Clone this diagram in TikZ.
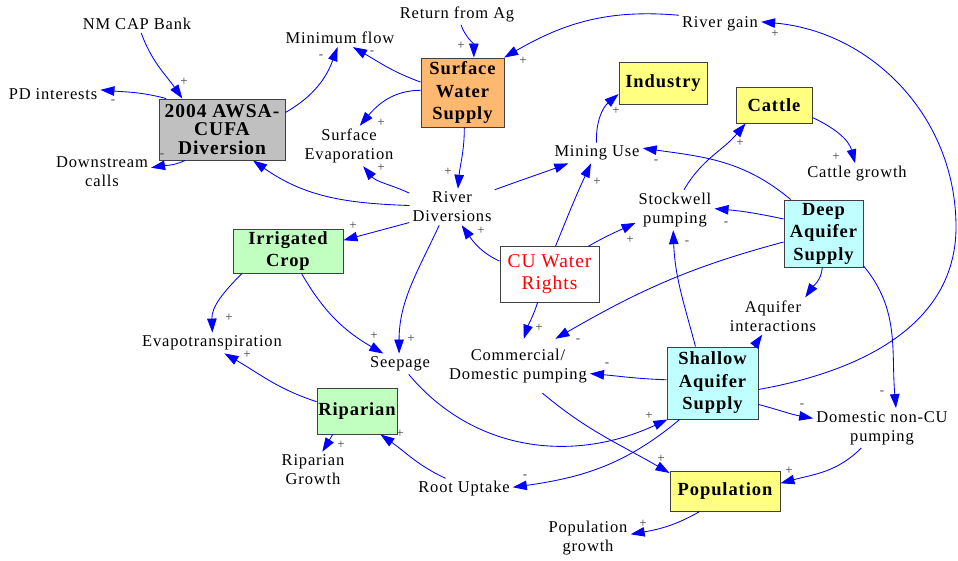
\documentclass[tikz,border=0pt]{standalone}
\usepackage{fontspec}
\setmainfont{Liberation Serif}[LetterSpace=5]
\usetikzlibrary{arrows.meta}
\definecolor{boxgray}{RGB}{192,192,192}
\definecolor{boxorange}{RGB}{255,184,112}
\definecolor{boxyellow}{RGB}{255,255,128}
\definecolor{boxcyan}{RGB}{192,255,255}
\definecolor{boxgreen}{RGB}{192,255,192}
\definecolor{edgegray}{RGB}{64,64,64}
\begin{document}
\begin{tikzpicture}[x=1pt,y=1pt,
  lbl/.style={font=\fontsize{16.5}{19}\selectfont, align=center, inner sep=3pt},
  boxst/.style={draw=edgegray, line width=0.9pt, align=center, inner sep=0pt,
    font=\fontsize{18.5}{22.5}\selectfont\bfseries},
  arr/.style={draw=blue, line width=0.85pt, -{Triangle[length=14pt,width=9.5pt]}},
  pm/.style={font=\fontsize{13}{13}\selectfont, text=black!75, inner sep=0pt}]
\useasboundingbox (0,0) rectangle (958,-560);

% boxes
\node[boxst, fill=boxgray, minimum width=126pt, minimum height=61pt,
  font=\fontsize{19.5}{18.5}\selectfont\bfseries] (awsa) at (222,-129.5) {2004 AWSA-\\CUFA\\Diversion};
\node[boxst, fill=boxorange, minimum width=83pt, minimum height=69pt] (sws) at (462.5,-92.5) {Surface\\Water\\Supply};
\node[boxst, fill=boxyellow, minimum width=88pt, minimum height=42pt] (ind) at (663,-83) {Industry};
\node[boxst, fill=boxyellow, minimum width=76pt, minimum height=36pt] (cattle) at (774,-105) {Cattle};
\node[boxst, fill=boxcyan, minimum width=79pt, minimum height=67pt] (deep) at (823.5,-233.5) {Deep\\Aquifer\\Supply};
\node[boxst, fill=boxcyan, minimum width=91pt, minimum height=72pt] (shallow) at (712.5,-383) {Shallow\\Aquifer\\Supply};
\node[boxst, fill=boxgreen, minimum width=110pt, minimum height=44pt] (irr) at (288,-251) {Irrigated\\Crop};
\node[boxst, fill=boxgreen, minimum width=80pt, minimum height=46pt] (rip) at (357,-411) {Riparian};
\node[boxst, fill=white, minimum width=99pt, minimum height=55.5pt, text=red,
  font=\fontsize{19.5}{22}\selectfont] (cu) at (549.5,-274.5) {CU Water\\Rights};
\node[boxst, fill=boxyellow, minimum width=110pt, minimum height=40pt] (pop) at (725,-491) {Population};

% text variables
\node[lbl] (nm) at (137,-24) {NM CAP Bank};
\node[lbl] (pd) at (53,-94) {PD interests};
\node[lbl] (ds) at (102,-172) {Downstream\\calls};
\node[lbl] (minf) at (340,-38) {Minimum flow};
\node[lbl] (ret) at (457,-14) {Return from Ag};
\node[lbl] (rg) at (720,-24) {River gain};
\node[lbl] (sevap) at (349,-146) {Surface\\Evaporation};
\node[lbl] (rd) at (452,-207) {River\\Diversions};
\node[lbl] (mining) at (597,-153) {Mining Use};
\node[lbl] (cg) at (857,-174) {Cattle growth};
\node[lbl] (sw) at (675,-210) {Stockwell\\pumping};
\node[lbl] (ai) at (773,-316) {Aquifer\\interactions};
\node[lbl, inner ysep=10pt] (cd) at (518,-366) {Commercial/\\Domestic pumping};
\node[lbl] (seep) at (400,-364) {Seepage};
\node[lbl] (et) at (212,-343) {Evapotranspiration};
\node[lbl] (rgr) at (313,-470) {Riparian\\Growth};
\node[lbl] (ru) at (464,-489) {Root Uptake};
\node[lbl] (dnc) at (882,-428) {Domestic non-CU\\pumping};
\node[lbl] (pg) at (588,-538) {Population\\growth};
\coordinate (loopR) at (956,-227);

% connectors
\draw[arr] (nm.-65) to[out=-70,in=125] (awsa.142);
\draw[arr] (awsa.151) to[out=165,in=-5] (pd.5);
\draw[arr] (awsa.-140) to[out=-155,in=10] (ds.5);
\draw[arr] (awsa.15) to[out=30,in=-110] (minf.-105);
\draw[arr] (sws.166) to[out=160,in=-30] (minf.-35);
\draw[arr] (ret.-70) to[out=-70,in=90] (sws.72);
\draw[arr] (rg.168) to[out=175,in=30] (sws.40);
\draw[arr] (sws.177) to[out=180,in=50] (sevap.62);
\draw[arr] (sws.-87) to[out=-90,in=85] (rd.72);
\draw[arr] (rd.162) to[out=155,in=-50] (sevap.-55);
\draw[arr] (rd.178) to[out=178,in=-35] (awsa.-45);
\draw[arr] (rd.-160) to[out=-165,in=15] (irr.11);
\draw[arr] (rd.22) to[out=20,in=-160] (mining.-160);
\draw[arr] (rd.-125) to[out=-115,in=90] (seep.95);
\draw[arr] (cu.165) to[out=155,in=-55] (rd.-62);
\draw[arr] (cu.78) to[out=68,in=-115] (mining.-120);
\draw[arr] (cu.36) to[out=30,in=-155] (sw.-162);
\draw[arr] (cu.-113) to[out=-108,in=72] (cd.78);
\draw[arr] (mining.93) to[out=92,in=-140] (ind.-166);
\draw[arr] (sw.66) to[out=60,in=-130] (cattle.-147);
\draw[arr] (cattle.-18) to[out=-25,in=105] (cg.100);
\draw[arr] (deep.134) to[out=140,in=-8] (mining.6);
\draw[arr] (deep.160) to[out=168,in=-5] (sw.2);
\draw[arr] (deep.-168) to[out=-165,in=30] (cd.36);
\draw[arr] (deep.-92) to[out=-95,in=55] (ai.30);
\draw[arr] (deep.-39) to[out=-50,in=95] (dnc.55);
\draw[arr] (shallow.115) to[out=105,in=-88] (sw.-95);
\draw[arr] (shallow.41) to[out=50,in=-125] (ai.-120);
\draw[arr] (shallow.176) to[out=178,in=-5] (cd.-6);
\draw[arr] (shallow.-8) to[out=10,in=-90] (loopR) to[out=90,in=-5] (rg.3);
\draw[arr] (shallow.-25) to[out=-15,in=170] (dnc.172);
\draw[arr] (shallow.-132) to[out=-140,in=8] (ru.2);
\draw[arr] (seep.-50) to[out=-50,in=-155] (shallow.-141);
\draw[arr] (cd.-48) to[out=-40,in=150] (pop.162);
\draw[arr] (dnc.-136) to[out=-135,in=15] (pop.8);
\draw[arr] (pop.-141) to[out=-150,in=10] (pg.5);
\draw[arr] (ru.150) to[out=155,in=-35] (rip.-45);
\draw[arr] (rip.-136) to[out=-122,in=58] (rgr.63);
\draw[arr] (rip.167) to[out=162,in=-30] (et.-40);
\draw[arr] (irr.-154) to[out=-135,in=92] (et.88);
\draw[arr] (irr.-59) to[out=-60,in=150] (seep.148);

% polarity markers
\foreach [count=\i] \px/\py/\s in {184/82/+, 113/102/-, 162/156/-, 321/57/-, 372/53/-,
  461/46/+, 523/61/+, 381/123/+, 448/172/+, 381/168/+, 353/226/+, 481/231/+,
  597/182/+, 630/240/+, 539/328/+, 616/111/+, 740/143/+, 836/157/+, 656/162/-,
  726/224/-, 578/341/-, 882/393/-, 687/243/-, 607/365/-, 775/34/+, 802/406/-,
  525/477/-, 649/416/+, 661/459/+, 789/471/+, 643/524/+, 400/434/+, 341/445/+,
  247/355/+, 229/318/+, 374/336/+, 411/339/+}
  \node[pm] (m\i) at (\px,-\py) {\s};
\end{tikzpicture}
\end{document}
